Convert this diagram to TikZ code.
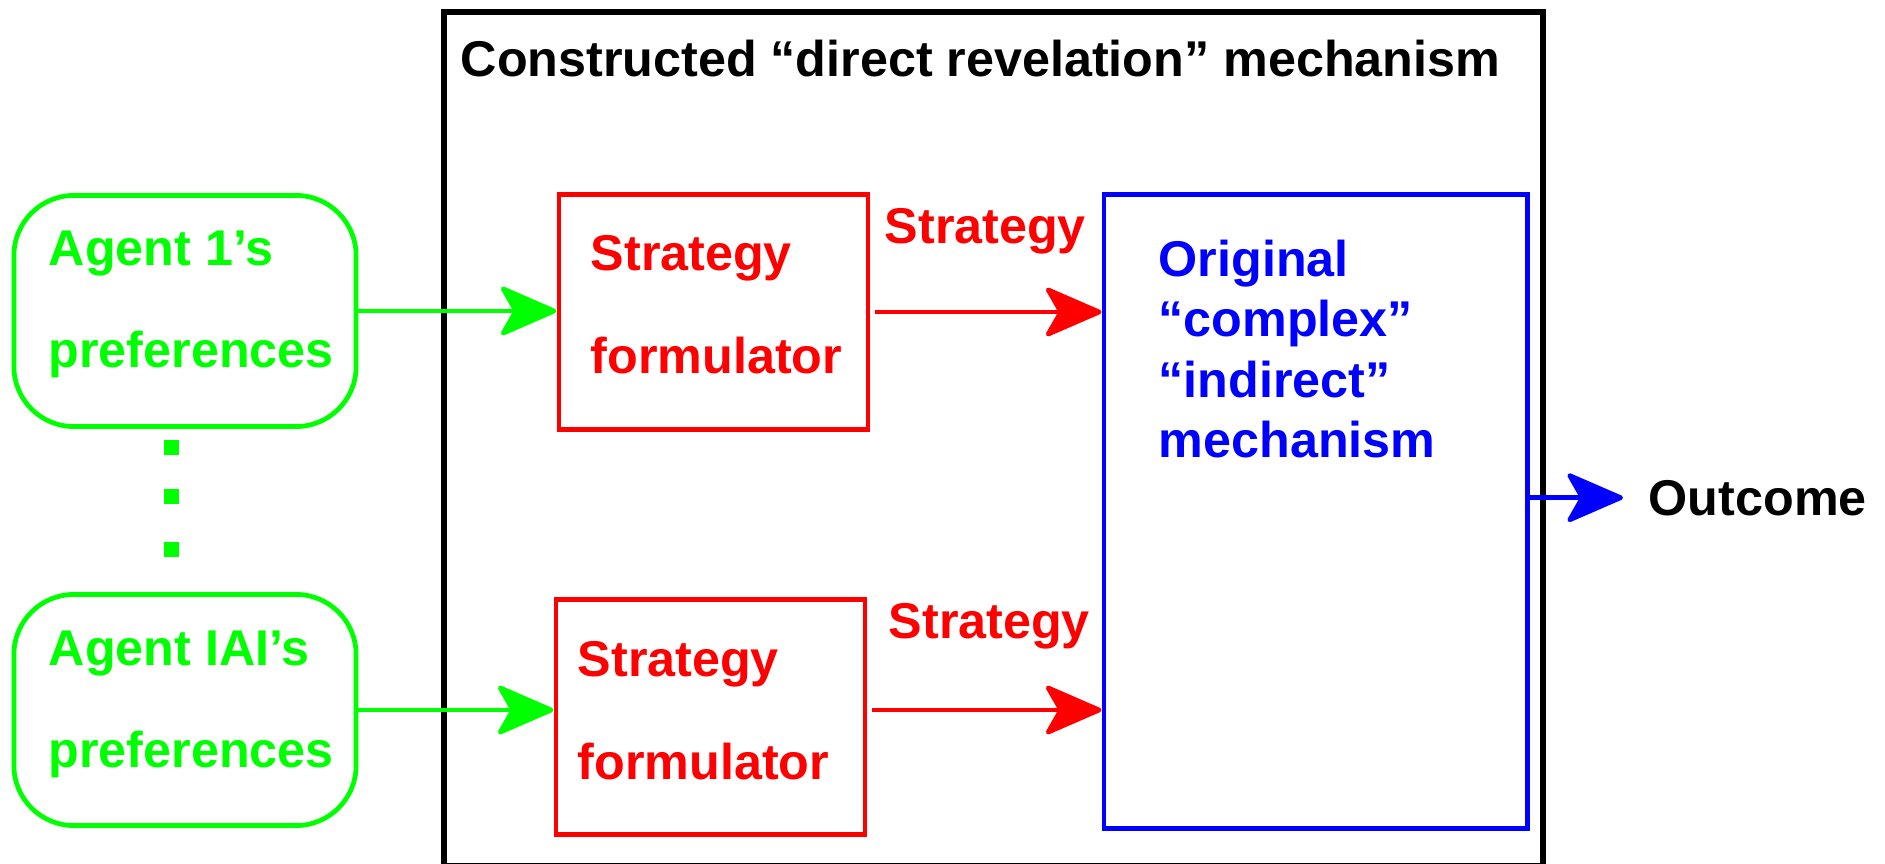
\documentclass[tikz,border=0pt]{standalone}
\usepackage{fontspec}
\setmainfont{Liberation Sans}
\usepackage{tikz}
\usetikzlibrary{arrows.meta,positioning}
\definecolor{agentgreen}{RGB}{0,255,0}
\definecolor{stratred}{RGB}{255,0,0}
\definecolor{mechblue}{RGB}{0,0,255}
\tikzset{
  bigtip/.tip={Stealth[length=17.6pt,width=15.2pt,inset=4.3pt,round]},
  lbl/.style={anchor=base west,inner sep=0pt,font=\fontsize{14.3}{17}\selectfont\bfseries},
}

\begin{document}
\begin{tikzpicture}[x=0.01cm,y=-0.01cm,
  prefbox/.style={draw=agentgreen,line width=1.35pt,rounded corners=0.6cm,minimum width=3.42cm,minimum height=2.31cm},
  stratbox/.style={draw=stratred,line width=1.35pt,minimum width=3.09cm,minimum height=2.35cm},
  mechbox/.style={draw=mechblue,line width=1.35pt,minimum width=4.23cm,minimum height=6.33cm},
  arr/.style={line width=1.3pt,-bigtip}]
\useasboundingbox (0,0) rectangle (1885,864);
\clip (0,0) rectangle (1885,864);
% Outer mechanism frame
\draw[line width=1.45pt] (444,12) rectangle (1543,866);
\node[lbl] (title) at (460,77) {Constructed “direct revelation” mechanism};
% Agents
\node[prefbox] (pref1) at (185,311) {};
\node[prefbox] (pref2) at (185,710) {};
\node[lbl,agentgreen] (p1a) at (48,266) {Agent 1’s};
\node[lbl,agentgreen] (p1b) at (48,368) {preferences};
\node[lbl,agentgreen] (p2a) at (48,665) {Agent IAI’s};
\node[lbl,agentgreen] (p2b) at (48,767) {preferences};
% Dots between agents
\foreach \y in {448,496,549} {
    \fill[agentgreen] (163.5,\y-7.5) rectangle ++(15,15);
}
% Strategy formulators
\node[stratbox] (strat1) at (713.5,312) {};
\node[stratbox] (strat2) at (710.5,717) {};
\node[lbl,stratred] (s1a) at (590,271) {Strategy};
\node[lbl,stratred] (s1b) at (590,374) {formulator};
\node[lbl,stratred] (s2a) at (577,676) {Strategy};
\node[lbl,stratred] (s2b) at (577,779) {formulator};
% Original mechanism
\node[mechbox] (orig) at (1315.5,511.5) {};
\node[lbl,mechblue] (m1) at (1158,277) {Original};
\node[lbl,mechblue] (m2) at (1158,337) {“complex”};
\node[lbl,mechblue] (m3) at (1158,398) {“indirect”};
\node[lbl,mechblue] (m4) at (1158,457) {mechanism};
\node[lbl,inner xsep=0.25cm] (outcome) at (1623,515) {Outcome};
% Arrow labels
\node[lbl,stratred] (lab1) at (884,244) {Strategy};
\node[lbl,stratred] (lab2) at (888,638) {Strategy};
% Arrows
\draw[arr,agentgreen] (pref1.east) -- (pref1.east -| strat1.west);
\draw[arr,agentgreen] (pref2.east) -- (pref2.east -| strat2.west);
\draw[arr,stratred] ([xshift=0.05cm]strat1.east) -- (strat1.east -| orig.west);
\draw[arr,stratred] ([xshift=0.05cm]strat2.east |- pref2.east) -- (pref2.east -| orig.west);
\draw[arr,mechblue] (orig.east |- outcome.west) -- (outcome.west);
\end{tikzpicture}
\end{document}
